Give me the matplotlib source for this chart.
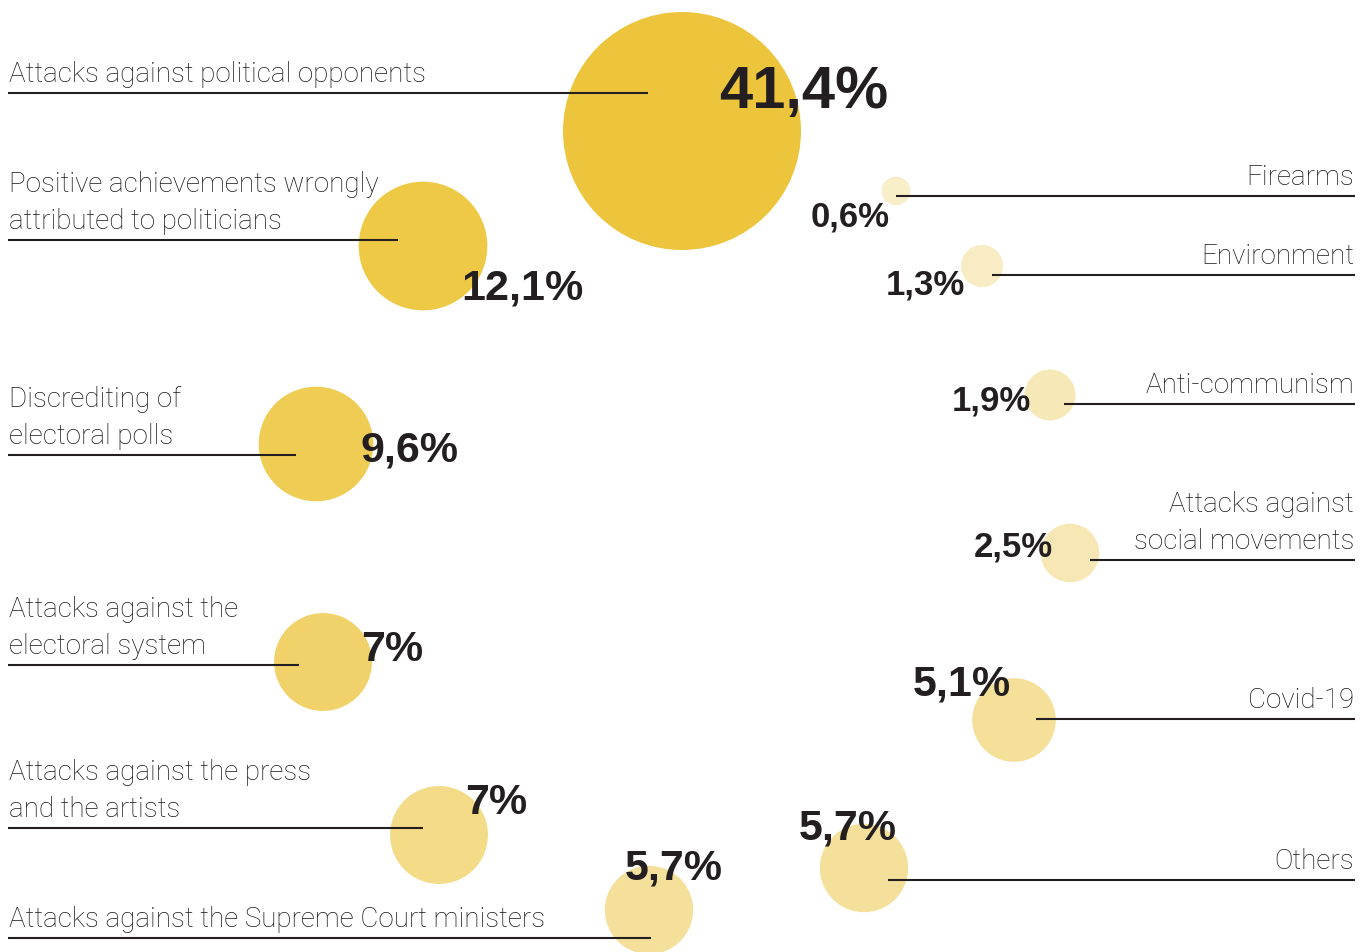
import matplotlib.pyplot as plt
from matplotlib.patches import Circle

# categories and shares (%)
labels = [
    "Attacks against political opponents",
    "Positive achievements wrongly\nattributed to politicians",
    "Discrediting of\nelectoral polls",
    "Attacks against the\nelectoral system",
    "Attacks against the press\nand the artists",
    "Attacks against the Supreme Court ministers",
    "Firearms",
    "Environment",
    "Anti-communism",
    "Attacks against\nsocial movements",
    "Covid-19",
    "Others",
]
values = [41.4, 12.1, 9.6, 7, 7, 5.7, 0.6, 1.3, 1.9, 2.5, 5.1, 5.7]
sides = ["left"] * 6 + ["right"] * 6

# layout in pixels: bubble centre, underline y, line end (left) / start (right),
# percentage label left edge and baseline
centers = [(682, 131), (423, 246), (316, 444), (323, 662), (439, 835), (649, 910),
           (896, 191), (982, 266), (1050, 395), (1070, 553), (1014, 720), (864, 868)]
line_y = [93, 240, 455, 665, 828, 938, 196, 275, 404, 560, 719, 880]
line_x = [648, 398, 296, 299, 423, 651, 896, 992, 1064, 1090, 1036, 888]
pct_pos = [(719, 108), (461, 300), (361, 462), (361, 661), (465, 814), (625, 879),
           (811, 226), (886, 294), (952, 410), (974, 556), (913, 696), (799, 839)]
colors = ["#EDC53C", "#EEC946", "#EFCD55", "#F1D26A", "#F3DB87", "#F4E09A",
          "#F8EEC8", "#F8ECC4", "#F7E8B8", "#F7E7B4", "#F5E09A", "#F4E09A"]

W, H = 1371, 952
R_MAX = 119
INK = "#231F20"

fig = plt.figure(figsize=(W / 100, H / 100), dpi=100)
ax = fig.add_axes([0, 0, 1, 1])
ax.set_xlim(0, W)
ax.set_ylim(H, 0)
ax.set_aspect("equal")
ax.axis("off")

vmax = max(values)
for i, v in enumerate(values):
    r = R_MAX * (v / vmax) ** 0.5
    ax.add_patch(Circle(centers[i], r, color=colors[i], lw=0, zorder=1))

    # underline
    if sides[i] == "left":
        ax.plot([8, line_x[i]], [line_y[i], line_y[i]], color=INK, lw=1.5,
                solid_capstyle="butt", zorder=2)
        tx, ha = 9, "left"
    else:
        ax.plot([line_x[i], 1355], [line_y[i], line_y[i]], color=INK, lw=1.5,
                solid_capstyle="butt", zorder=2)
        tx, ha = 1354, "right"

    # category text, one line at a time
    rows = labels[i].split("\n")
    for k, row in enumerate(rows):
        y = line_y[i] - 11 - (len(rows) - 1 - k) * 37
        ax.text(tx, y, row, ha=ha, va="baseline", fontsize=20,
                family="Roboto", fontweight="light", color="#1a1718", zorder=3)

    # percentage
    if v == vmax:
        fs = 43
    elif v >= 5:
        fs = 31
    else:
        fs = 25
    txt = f"{v:g}".replace(".", ",") + "%"
    ax.text(pct_pos[i][0], pct_pos[i][1], txt, ha="left", va="baseline",
            fontsize=fs, family="Liberation Sans", fontweight="bold",
            color=INK, zorder=4)

fig.savefig("out.png", dpi=100)
